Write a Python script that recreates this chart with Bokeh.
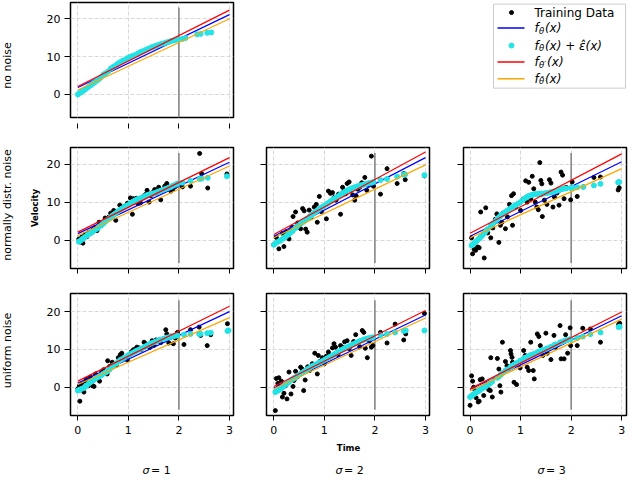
import numpy as np
from bokeh.plotting import figure
from bokeh.layouts import column, row
from bokeh.models import Range1d, FixedTicker, CustomJSTickFormatter
from bokeh.embed import file_html
from bokeh.resources import INLINE
from bokeh.core.properties import value

# ---------------- data ----------------
x_ticks = [0, 1, 2, 3]
y_ticks = [0, 10, 20]
row_labels = ["no noise", "normally distr. noise", "uniform noise"]
sigma_values = ["1", "2", "3"]
legend_labels = ["Training Data", "f_θ(x)", "f_θ(x) + ε̂(x)", "f_θ'(x)", "f_θ̄(x)"]

split_x = 2.0
split_lo, split_hi = -6.0, 23.0
line_x = [0, 3]

# no noise: (x, f(x)+eps(x))
nn_pts = [(0.00, 0.0), (0.03, 0.3), (0.06, 0.6), (0.09, 0.9), (0.12, 1.1), (0.16, 1.5), (0.20, 1.9),
          (0.25, 2.4), (0.29, 2.8), (0.33, 3.2), (0.38, 3.7), (0.42, 4.1), (0.46, 4.6), (0.51, 5.3),
          (0.55, 5.6), (0.60, 6.1), (0.65, 6.8), (0.69, 7.2), (0.73, 7.5), (0.77, 7.9), (0.81, 8.3),
          (0.86, 8.7), (0.90, 9.0), (0.94, 9.2), (0.98, 9.6), (1.03, 9.9), (1.07, 10.1), (1.11, 10.3),
          (1.16, 10.6), (1.20, 10.9), (1.24, 11.2), (1.28, 11.4), (1.33, 11.7), (1.37, 11.9), (1.40, 12.1),
          (1.45, 12.4), (1.49, 12.6), (1.53, 12.8), (1.57, 13.0), (1.62, 13.2), (1.66, 13.4), (1.70, 13.5),
          (1.74, 13.7), (1.77, 13.8), (1.82, 14.0), (1.86, 14.2), (1.90, 14.3), (1.93, 14.4), (1.97, 14.6),
          (2.07, 14.7), (2.13, 14.9), (2.36, 15.9), (2.43, 16.0), (2.56, 16.3), (2.64, 16.4)]

# (x, training y, f(x)+eps(x))
n1_pts = [(0.02, 0.4, -0.3), (0.05, -0.4, -0.1), (0.08, 0.9, 0.3), (0.10, -0.7, 0.5), (0.14, 1.6, 0.9),
          (0.18, 1.0, 1.3), (0.22, 2.2, 1.7), (0.27, 2.0, 2.1), (0.30, 2.9, 2.4), (0.34, 3.4, 2.8),
          (0.38, 2.6, 3.1), (0.42, 4.8, 3.6), (0.46, 4.0, 4.0), (0.50, 4.4, 4.4), (0.54, 5.9, 4.9),
          (0.57, 5.3, 5.3), (0.61, 6.1, 5.7), (0.65, 7.2, 6.1), (0.68, 6.4, 6.5), (0.71, 7.9, 6.8),
          (0.75, 5.3, 7.2), (0.79, 7.6, 7.6), (0.83, 9.3, 8.0), (0.87, 8.4, 8.4), (0.92, 9.0, 8.8),
          (0.98, 9.8, 9.3), (1.04, 11.2, 9.8), (1.08, 6.9, 10.1), (1.10, 11.0, 10.3), (1.13, 10.7, 10.5),
          (1.16, 11.1, 10.7), (1.19, 9.7, 10.9), (1.24, 9.9, 11.1), (1.29, 11.5, 11.4), (1.34, 12.1, 11.7),
          (1.37, 13.2, 11.9), (1.39, 12.3, 12.0), (1.41, 10.1, 12.1), (1.45, 11.8, 12.2), (1.48, 12.6, 12.3),
          (1.52, 13.4, 12.5), (1.56, 12.5, 12.7), (1.60, 14.0, 12.9), (1.64, 10.7, 13.1), (1.68, 13.2, 13.3),
          (1.72, 14.3, 13.5), (1.76, 15.0, 13.7), (1.80, 13.8, 13.9), (1.84, 13.0, 14.1), (1.88, 13.5, 14.4),
          (1.93, 14.2, 14.7), (1.97, 15.0, 14.9), (2.07, 14.1, 15.2), (2.23, 14.3, 15.7), (2.41, 22.9, 16.2),
          (2.45, 17.6, 16.3), (2.57, 13.8, 16.5), (2.95, 17.5, 16.9)]

n2_pts = [(0.00, -1.1, -1.1), (0.05, 0.8, -0.6), (0.10, -2.2, -0.2), (0.13, 0.0, 0.0), (0.17, 1.9, 0.4),
          (0.20, -1.6, 0.7), (0.24, 2.3, 1.1), (0.28, 1.3, 1.5), (0.30, 0.4, 1.7), (0.33, 2.6, 2.1),
          (0.36, 3.5, 2.4), (0.38, 6.3, 2.7), (0.43, 7.5, 3.3), (0.47, 4.6, 3.8), (0.53, 3.1, 4.4),
          (0.57, 8.4, 4.8), (0.60, 7.8, 5.1), (0.63, 3.0, 5.4), (0.66, 2.2, 5.7), (0.70, 8.0, 6.2),
          (0.73, 6.0, 6.5), (0.76, 6.9, 6.8), (0.80, 8.8, 7.3), (0.84, 9.5, 7.7), (0.86, 4.8, 7.9),
          (0.90, 11.6, 8.3), (0.94, 7.6, 8.7), (0.98, 9.0, 9.0), (1.04, 5.7, 9.5), (1.08, 13.0, 9.9),
          (1.12, 12.4, 10.3), (1.16, 12.6, 10.7), (1.20, 11.4, 11.0), (1.23, 10.6, 11.3), (1.28, 12.2, 11.7),
          (1.32, 6.9, 12.1), (1.36, 14.0, 12.4), (1.39, 13.1, 12.7), (1.42, 12.3, 12.9), (1.45, 15.0, 13.2),
          (1.49, 15.4, 13.4), (1.52, 13.2, 13.6), (1.56, 12.0, 13.8), (1.60, 10.6, 14.0), (1.63, 11.7, 14.1),
          (1.66, 13.5, 14.3), (1.70, 14.0, 14.4), (1.74, 15.2, 14.6), (1.78, 14.8, 14.7), (1.80, 16.6, 14.8),
          (1.84, 13.2, 14.9), (1.88, 14.6, 15.1), (1.93, 22.2, 15.2), (1.97, 14.3, 15.4), (2.11, 12.2, 15.9),
          (2.24, 18.9, 16.2), (2.44, 15.0, 16.8), (2.57, 17.6, 17.3), (2.60, 16.0, 17.4), (2.98, 17.0, 17.2)]

n3_pts = [(0.03, 0.7, -1.3), (0.05, -3.5, -1.1), (0.08, -2.3, -0.7), (0.11, -2.6, -0.4), (0.15, -1.7, 0.1),
          (0.18, -1.9, 0.5), (0.21, 7.5, 0.9), (0.24, 1.2, 1.3), (0.28, -4.6, 1.9), (0.31, 8.6, 2.4),
          (0.35, 2.0, 3.0), (0.41, 0.7, 3.9), (0.45, 3.3, 4.5), (0.50, 5.6, 5.1), (0.53, 7.0, 5.5),
          (0.57, -0.5, 6.1), (0.60, 4.0, 6.5), (0.63, 4.8, 6.8), (0.65, 7.2, 7.0), (0.70, 3.1, 7.5),
          (0.74, 6.2, 7.9), (0.78, 9.5, 8.2), (0.82, 11.8, 8.6), (0.84, 4.0, 8.8), (0.86, 12.3, 9.0),
          (0.90, 8.8, 9.3), (0.95, 9.7, 9.7), (1.00, 7.9, 10.1), (1.05, 10.9, 10.7), (1.10, 15.7, 11.2),
          (1.13, 10.1, 11.5), (1.16, 15.3, 11.7), (1.20, 11.0, 11.9), (1.23, 16.9, 12.0), (1.26, 13.6, 12.1),
          (1.29, 10.1, 12.2), (1.32, 8.8, 12.2), (1.35, 8.1, 12.3), (1.38, 20.5, 12.3), (1.40, 15.8, 12.3),
          (1.42, 14.9, 12.3), (1.43, 6.3, 12.3), (1.47, 10.6, 12.4), (1.52, 9.5, 12.5), (1.57, 16.0, 12.6),
          (1.60, 15.1, 12.7), (1.64, 8.8, 12.8), (1.67, 11.4, 12.9), (1.72, 12.5, 13.1), (1.76, 9.3, 13.3),
          (1.80, 18.0, 13.5), (1.83, 17.2, 13.6), (1.86, 11.0, 13.7), (1.90, 14.0, 13.7), (1.99, 10.7, 13.8),
          (2.02, 15.4, 13.9), (2.12, 11.6, 14.0), (2.24, 14.1, 14.1), (2.45, 16.6, 14.5), (2.58, 16.7, 14.9),
          (2.93, 13.3, 15.3), (2.95, 13.9, 15.4)]

u1_pts = [(0.00, -0.4, -0.9), (0.03, 0.3, -0.7), (0.04, -3.7, -0.7), (0.08, 0.9, -0.4), (0.12, -1.3, -0.2),
          (0.15, 1.6, 0.2), (0.17, 2.1, 0.4), (0.21, 0.4, 0.9), (0.25, 2.7, 1.3), (0.29, 0.4, 1.7),
          (0.32, 0.2, 2.0), (0.35, 3.5, 2.3), (0.39, 2.5, 2.6), (0.43, 1.6, 2.9), (0.47, 3.9, 3.2),
          (0.51, 4.6, 3.6), (0.55, 4.2, 3.9), (0.58, 3.5, 4.2), (0.59, 7.0, 4.3), (0.63, 5.5, 4.7),
          (0.68, 6.6, 5.4), (0.71, 6.2, 5.8), (0.76, 5.8, 6.3), (0.80, 7.8, 6.8), (0.84, 8.6, 7.2),
          (0.87, 9.0, 7.4), (0.92, 7.6, 7.8), (0.98, 7.2, 8.3), (1.02, 8.5, 8.6), (1.06, 9.4, 8.9),
          (1.10, 9.9, 9.2), (1.14, 10.1, 9.5), (1.17, 10.6, 9.7), (1.21, 10.4, 9.9), (1.25, 9.9, 10.2),
          (1.31, 11.9, 10.6), (1.34, 11.5, 10.8), (1.38, 11.1, 11.1), (1.42, 10.5, 11.4), (1.47, 12.3, 11.7),
          (1.51, 11.1, 11.9), (1.55, 12.5, 12.1), (1.60, 12.4, 12.4), (1.64, 11.8, 12.6), (1.70, 12.9, 12.8),
          (1.74, 15.2, 13.0), (1.76, 14.1, 13.1), (1.80, 11.7, 13.2), (1.84, 13.5, 13.4), (1.89, 11.5, 13.5),
          (1.93, 13.0, 13.6), (1.97, 14.5, 13.7), (2.10, 11.3, 13.9), (2.23, 15.2, 14.1), (2.40, 15.9, 14.1),
          (2.43, 13.7, 14.1), (2.56, 11.0, 14.3), (2.63, 13.9, 14.4), (2.96, 16.8, 14.9), (2.98, 15.0, 15.0)]

u2_pts = [(0.03, -6.2, -1.3), (0.05, 2.3, -1.1), (0.08, 1.0, -0.9), (0.10, 2.5, -0.7), (0.12, -0.4, -0.5),
          (0.15, 1.6, -0.2), (0.17, -2.6, 0.0), (0.20, -1.6, 0.3), (0.23, 0.4, 0.7), (0.26, -3.1, 1.0),
          (0.30, 4.0, 1.4), (0.34, -1.8, 1.9), (0.38, 0.2, 2.2), (0.40, 1.8, 2.4), (0.43, 4.2, 2.6),
          (0.47, 2.8, 3.0), (0.53, 5.3, 3.5), (0.56, 4.8, 3.8), (0.59, -0.9, 4.1), (0.62, 1.9, 4.3),
          (0.67, 5.4, 4.8), (0.71, 4.4, 5.1), (0.76, 6.2, 5.6), (0.81, 9.0, 5.9), (0.86, 3.5, 6.2),
          (0.88, 8.4, 6.4), (0.92, 6.9, 6.6), (0.96, 7.8, 6.9), (1.00, 6.2, 7.2), (1.04, 8.2, 7.5),
          (1.08, 9.3, 7.8), (1.12, 8.4, 8.1), (1.16, 10.4, 8.4), (1.19, 11.5, 8.6), (1.22, 10.6, 8.9),
          (1.27, 8.6, 9.3), (1.32, 11.0, 9.7), (1.36, 10.6, 10.0), (1.40, 12.0, 10.3), (1.45, 12.3, 10.6),
          (1.49, 10.2, 10.8), (1.53, 8.4, 11.1), (1.58, 12.1, 11.4), (1.62, 13.9, 11.7), (1.66, 11.9, 11.9),
          (1.70, 10.7, 12.2), (1.75, 15.0, 12.4), (1.78, 14.5, 12.6), (1.81, 10.3, 12.7), (1.85, 7.8, 12.9),
          (1.89, 12.2, 13.0), (1.93, 10.6, 13.1), (1.96, 11.0, 13.2), (2.11, 14.5, 13.8), (2.24, 11.7, 14.1),
          (2.40, 16.7, 14.5), (2.57, 12.5, 14.9), (2.61, 14.1, 15.0), (2.98, 19.5, 15.0)]

u3_pts = [(0.00, -4.8, -2.6), (0.03, 3.0, -2.3), (0.05, 1.6, -2.1), (0.07, 0.0, -1.9), (0.10, -0.9, -1.6),
          (0.12, -2.8, -1.4), (0.16, -3.9, -1.1), (0.18, -3.7, -0.9), (0.20, 2.0, -0.7), (0.24, 2.2, -0.3),
          (0.27, -2.2, -0.1), (0.31, 0.7, 0.2), (0.37, -0.7, 0.8), (0.40, -0.9, 1.1), (0.41, 7.8, 1.2),
          (0.44, -2.6, 1.5), (0.54, 7.6, 2.5), (0.57, 4.8, 2.8), (0.59, 0.4, 3.1), (0.61, -1.3, 3.3),
          (0.64, 11.9, 3.7), (0.70, 6.8, 4.4), (0.73, 5.7, 4.7), (0.80, 9.7, 5.3), (0.81, 8.8, 5.4),
          (0.83, 7.9, 5.6), (0.84, 6.6, 5.7), (0.87, 1.3, 6.0), (0.92, 0.7, 6.4), (0.99, 5.1, 7.0),
          (1.06, 9.7, 7.6), (1.09, 8.4, 7.8), (1.13, 5.3, 8.0), (1.16, 4.4, 8.2), (1.20, 11.9, 8.5),
          (1.25, 4.4, 8.7), (1.27, 2.2, 8.8), (1.33, 14.1, 9.2), (1.36, 13.4, 9.4), (1.39, 11.0, 9.5),
          (1.42, 9.7, 9.7), (1.44, 8.4, 9.8), (1.50, 14.3, 10.1), (1.53, 9.0, 10.3), (1.60, 7.3, 10.7),
          (1.66, 13.7, 11.1), (1.69, 10.6, 11.3), (1.78, 16.3, 11.8), (1.80, 7.5, 11.9), (1.86, 7.5, 12.2),
          (1.89, 13.9, 12.4), (1.93, 9.0, 12.5), (1.98, 15.7, 12.7), (1.99, 11.0, 12.7), (2.12, 11.0, 13.0),
          (2.23, 15.6, 13.4), (2.38, 15.4, 14.0), (2.58, 11.9, 14.5), (2.94, 16.6, 15.9), (2.96, 16.9, 16.0)]

# fitted lines: value at x=0 and x=3
nn_blue, nn_red, nn_orange = [1.85, 21.1], [2.1, 22.3], [1.2, 20.0]
n1_blue, n1_red, n1_orange = [1.8, 20.6], [2.2, 21.8], [1.3, 19.6]
n2_blue, n2_red, n2_orange = [1.1, 21.8], [1.6, 23.3], [0.7, 19.9]
n3_blue, n3_red, n3_orange = [1.1, 20.7], [1.9, 22.8], [0.7, 18.9]
u1_blue, u1_red, u1_orange = [1.1, 20.0], [1.6, 21.4], [0.7, 18.4]
u2_blue, u2_red, u2_orange = [-0.2, 19.1], [0.2, 20.3], [-0.4, 18.3]
u3_blue, u3_red, u3_orange = [-0.6, 18.9], [-0.4, 19.9], [-0.9, 18.0]

# ---------------- styling / layout ----------------
FONT = "DejaVu Sans"
BLUE, RED, ORANGE, CYAN = "#0000ff", "#ff0000", "#ffa500", "#22e3e6"
W0 = 42                      # width of the row-label strip
COLW = [193, 196, 201]
BL = [28, 31, 32]
BR = [2, 2, 6]
ROWH = [145, 146, 149]
BT = [2, 2, 2]
BB = [28, 23, 25]
YR = [(-6.08, 24.31), (-7.37, 24.47), (-7.49, 24.79)]
XR = [(-0.145, 3.08), (-0.145, 3.08), (-0.13, 3.095)]


def blank(w, h, xr, yr):
    f = figure(width=w, height=h, x_range=Range1d(*xr), y_range=Range1d(*yr),
               output_backend="svg", toolbar_location=None, min_border=0,
               x_axis_location=None, y_axis_location=None)
    f.outline_line_color = None
    f.grid.grid_line_color = None
    f.background_fill_color = "white"
    f.border_fill_color = "white"
    return f


def txt(f, x, y, s, size="11px", style="normal", align="center", angle=0.0):
    f.text(x=[x], y=[y], text=[s], angle=angle, text_font=value(FONT), text_font_size=size,
           text_font_style=style, text_align=align, text_baseline="middle", text_color="black")


def panel(r, c, show_x, show_y, tick_gap=0):
    p = figure(width=COLW[c], height=ROWH[r], x_range=Range1d(*XR[c]), y_range=Range1d(*YR[r]),
               output_backend="svg", toolbar_location=None,
               min_border_left=BL[c], min_border_right=BR[c],
               min_border_top=BT[r], min_border_bottom=BB[r])
    p.outline_line_color = "black"
    p.outline_line_width = 1.5
    p.outline_line_alpha = 1.0
    p.background_fill_color = "white"
    p.border_fill_color = "white"
    p.xaxis.ticker = FixedTicker(ticks=x_ticks)
    p.yaxis.ticker = FixedTicker(ticks=y_ticks)
    p.xgrid.ticker = FixedTicker(ticks=x_ticks)
    p.ygrid.ticker = FixedTicker(ticks=y_ticks)
    for ax in (p.xaxis[0], p.yaxis[0]):
        ax.axis_line_color = None
        ax.major_tick_line_color = "black"
        ax.major_tick_line_width = 1
        ax.minor_tick_line_color = None
        ax.minor_tick_out = 0
        ax.major_label_text_font = FONT
        ax.major_label_text_font_size = "11px"
        ax.major_label_text_color = "black"
    p.xaxis.major_tick_in = -tick_gap
    p.xaxis.major_tick_out = 5 + tick_gap
    p.xaxis.major_label_standoff = 5
    p.yaxis.major_tick_in = 0
    p.yaxis.major_tick_out = 6
    p.yaxis.major_label_standoff = 4
    if not show_x:
        p.xaxis.formatter = CustomJSTickFormatter(code="return ''")
        p.xaxis.major_label_standoff = 0
    if not show_y:
        p.yaxis.formatter = CustomJSTickFormatter(code="return ''")
    p.grid.grid_line_color = "#d8d8d8"
    p.grid.grid_line_dash = "4 2"
    p.grid.grid_line_width = 1
    return p


def draw(p, pts, blue, red, orange, has_train=True):
    xs = [q[0] for q in pts]
    p.segment(x0=[split_x], y0=[split_lo], x1=[split_x], y1=[split_hi],
              line_color="#808080", line_width=1.5)
    if has_train:
        p.scatter(xs, [q[1] for q in pts], size=4, color="black")
        cy = [q[2] for q in pts]
    else:
        cy = [q[1] for q in pts]
    p.line(line_x, blue, line_color=BLUE, line_width=1.2)
    p.scatter(xs, cy, size=5, color=CYAN)
    p.line(line_x, red, line_color=RED, line_width=1.2)
    p.line(line_x, orange, line_color=ORANGE, line_width=1.2)


# single row-label strip on the left (pixel coordinates, y downwards)
GRID_H = sum(ROWH)
labstrip = blank(W0, GRID_H, (0, W0), (GRID_H, 0))
for s, cy in zip(row_labels, [65, 204.5, 350]):
    txt(labstrip, 7, cy, s, angle=np.pi / 2)
txt(labstrip, 34.5, 207.5, "Velocity", size="8.5px", style="bold", angle=np.pi / 2)

# row 1
p11 = panel(0, 0, False, True, tick_gap=6)
draw(p11, nn_pts, nn_blue, nn_red, nn_orange, has_train=False)

# legend strip (pixel coordinates)
LX0 = W0 + COLW[0]
leg = blank(COLW[1] + COLW[2], ROWH[0], (LX0, LX0 + COLW[1] + COLW[2]), (ROWH[0], 0))
leg.quad(left=[493], right=[625], top=[2], bottom=[108], fill_color="white",
         line_color="#cccccc", line_width=1)
ent_y = [12.7, 32.3, 54.3, 75.0, 96.0]
leg.scatter([511], [ent_y[0]], size=4, color="black")
leg.line([497, 524], [ent_y[1], ent_y[1]], line_color=BLUE, line_width=1.5)
leg.scatter([511], [ent_y[2]], size=5, color=CYAN)
leg.line([497, 524], [ent_y[3], ent_y[3]], line_color=RED, line_width=1.5)
leg.line([497, 524], [ent_y[4], ent_y[4]], line_color=ORANGE, line_width=1.5)
tx = 534
txt(leg, tx, ent_y[0], legend_labels[0], size="12px", align="left")
subs = ["θ", "θ", "θ′", "θ̄"]
rests = ["(x)", "(x) + ε̂(x)", "(x)", "(x)"]
sub_w = [5.8, 5.8, 8.0, 5.8]
for k in range(4):
    yy = ent_y[k + 1]
    txt(leg, tx, yy, "f", size="12px", style="italic", align="left")
    txt(leg, tx + 4.6, yy + 3.5, subs[k], size="8.5px", style="italic", align="left")
    txt(leg, tx + 4.6 + sub_w[k], yy, rests[k], size="12px", style="italic", align="left")

# row 2
p21 = panel(1, 0, False, True)
draw(p21, n1_pts, n1_blue, n1_red, n1_orange)
p22 = panel(1, 1, False, False)
draw(p22, n2_pts, n2_blue, n2_red, n2_orange)
p23 = panel(1, 2, False, False)
draw(p23, n3_pts, n3_blue, n3_red, n3_orange)

# row 3
p31 = panel(2, 0, True, True)
draw(p31, u1_pts, u1_blue, u1_red, u1_orange)
p32 = panel(2, 1, True, False)
draw(p32, u2_pts, u2_blue, u2_red, u2_orange)
p33 = panel(2, 2, True, False)
draw(p33, u3_pts, u3_blue, u3_red, u3_orange)

# bottom strip: Time and sigma labels (pixel coordinates)
BOT_TOP = GRID_H
TOTAL_W = W0 + sum(COLW)
bottom = blank(TOTAL_W, 50, (0, TOTAL_W), (BOT_TOP + 50, BOT_TOP))
txt(bottom, 348, 447, "Time", size="8.5px", style="bold")
for cx, sv in zip([155, 348, 550], sigma_values):
    txt(bottom, cx - 6, 470, "σ", style="italic", align="right")
    txt(bottom, cx - 4.5, 470, "= " + sv, align="left")

grid = column(row(p11, leg), row(p21, p22, p23), row(p31, p32, p33))
layout = column(row(labstrip, grid), bottom)
open("out.html", "w").write(file_html(layout, INLINE))
